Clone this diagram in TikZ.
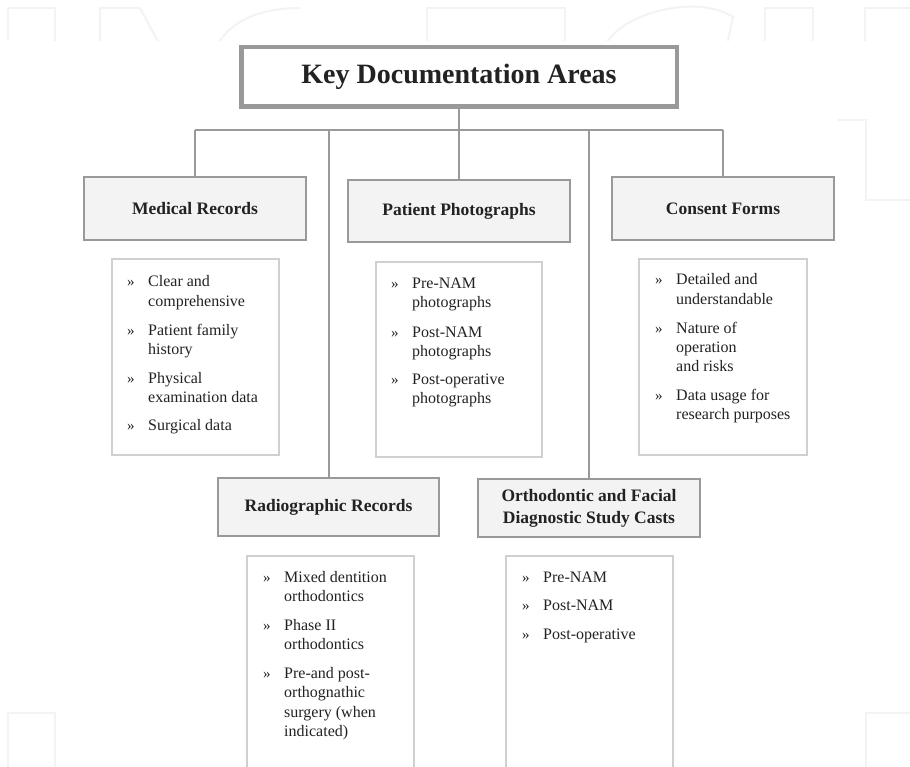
\documentclass[tikz,border=0pt]{standalone}
\usepackage{fontspec}
\setmainfont{Liberation Serif}
\definecolor{linegray}{HTML}{999999}
\definecolor{boxfill}{HTML}{F3F3F3}
\definecolor{listline}{HTML}{D0D0D0}
\definecolor{txt}{HTML}{222222}
\definecolor{wm}{HTML}{F3F3F3}
\tikzset{
  titlebox/.style={draw=linegray, line width=4.5pt, fill=white, minimum width=435.5pt, minimum height=59.5pt, inner sep=0pt, font=\fontsize{28}{32}\selectfont\bfseries, text=txt},
  headbox/.style={draw=linegray, line width=2pt, fill=boxfill, inner sep=0pt, font=\fontsize{17.5}{22}\selectfont\bfseries, text=txt, align=center},
  listbox/.style={draw=listline, line width=1.2pt, fill=white},
  conn/.style={draw=linegray, line width=2pt},
  bul/.style={inner sep=0pt, font=\fontsize{15}{17}\selectfont, text=txt},
  itemtext/.style={inner sep=0pt, font=\fontsize{16}{19.5}\selectfont, text=txt},
  wmline/.style={draw=wm, line width=2pt}
}
\newcommand\bitem[4]{%
  \node[bul, anchor=base west] (#1b) at (#2,#3) {»};
  \node[itemtext, anchor=base west] (#1) at (#2+21,#3) {\parbox[t]{140pt}{\raggedright #4}};
}
\begin{document}
\begin{tikzpicture}[x=1pt, y=-1pt]
\useasboundingbox (0,0) rectangle (910,767);
\fill[white] (0,0) rectangle (910,767);
% faint watermark
\begin{scope}
\clip (0,0) rectangle (910,41);
\draw[wmline] (8,45) -- (8,8) -- (55,8) -- (55,45);
\draw[wmline] (100,45) -- (100,8) -- (140,8) -- (160,45);
\draw[wmline] (217,45) .. controls (235,15) and (270,8) .. (300,8);
\draw[wmline] (427,45) -- (427,8) -- (565,8) -- (565,45);
\draw[wmline] (605,45) .. controls (625,10) and (700,-5) .. (733,17) -- (727,45);
\draw[wmline] (765,45) -- (765,8) -- (813,8) -- (813,45);
\draw[wmline] (865,45) -- (865,8) -- (915,8);
\end{scope}
\draw[wmline] (838,120) -- (866,120) -- (866,200) -- (915,200);
\draw[wmline] (8,770) -- (8,713) -- (55,713) -- (55,770);
\draw[wmline] (866,770) -- (866,713) -- (915,713);
% list boxes
\node[listbox, minimum width=167pt, minimum height=196pt, inner sep=0pt] (medlist) at (195.5,357) {};
\node[listbox, minimum width=166pt, minimum height=195pt, inner sep=0pt] (photlist) at (459,359.5) {};
\node[listbox, minimum width=168pt, minimum height=196pt, inner sep=0pt] (conslist) at (723,357) {};
\node[listbox, minimum width=167pt, minimum height=240pt, inner sep=0pt] (radlist) at (330.5,676) {};
\node[listbox, minimum width=167pt, minimum height=240pt, inner sep=0pt] (ortlist) at (589.5,676) {};
% title and headers
\node[titlebox] (title) at (459,77) {Key Documentation Areas};
\node[headbox, minimum width=222pt, minimum height=63pt] (med) at (195,208.5) {Medical Records};
\node[headbox, minimum width=222pt, minimum height=62pt] (phot) at (459,211) {Patient Photographs};
\node[headbox, minimum width=222pt, minimum height=63pt] (cons) at (723,208.5) {Consent Forms};
\node[headbox, minimum width=221pt, minimum height=58pt] (rad) at (328.5,507) {Radiographic Records};
\node[headbox, minimum width=222pt, minimum height=58pt] (ort) at (589,508) {Orthodontic and Facial\\Diagnostic Study Casts};
% connectors
\coordinate (bus) at (459,130);
\draw[conn] (title.south) -- (title.south |- bus);
\draw[conn] (med.north |- bus) -- (cons.north |- bus);
\draw[conn] (med.north) -- (med.north |- bus);
\draw[conn] (phot.north) -- (phot.north |- bus);
\draw[conn] (cons.north) -- (cons.north |- bus);
\draw[conn] (rad.north) -- (rad.north |- bus);
\draw[conn] (ort.north) -- (ort.north |- bus);
% list items
\bitem{m1}{127}{287}{Clear and\\comprehensive}
\bitem{m2}{127}{335}{Patient family\\history}
\bitem{m3}{127}{383}{Physical\\examination data}
\bitem{m4}{127}{430}{Surgical data}
\bitem{p1}{391}{288}{Pre-NAM\\photographs}
\bitem{p2}{391}{337}{Post-NAM\\photographs}
\bitem{p3}{391}{384}{Post-operative\\photographs}
\bitem{c1}{655}{285}{Detailed and\\understandable}
\bitem{c2}{655}{333}{Nature of\\operation\\and risks}
\bitem{c3}{655}{400}{Data usage for\\research purposes}
\bitem{r1}{263}{582}{Mixed dentition\\orthodontics}
\bitem{r2}{263}{630}{Phase II\\orthodontics}
\bitem{r3}{263}{678}{Pre-and post-\\orthognathic\\surgery (when\\indicated)}
\bitem{o1}{522}{582}{Pre-NAM}
\bitem{o2}{522}{610}{Post-NAM}
\bitem{o3}{522}{639}{Post-operative}
\end{tikzpicture}
\end{document}
